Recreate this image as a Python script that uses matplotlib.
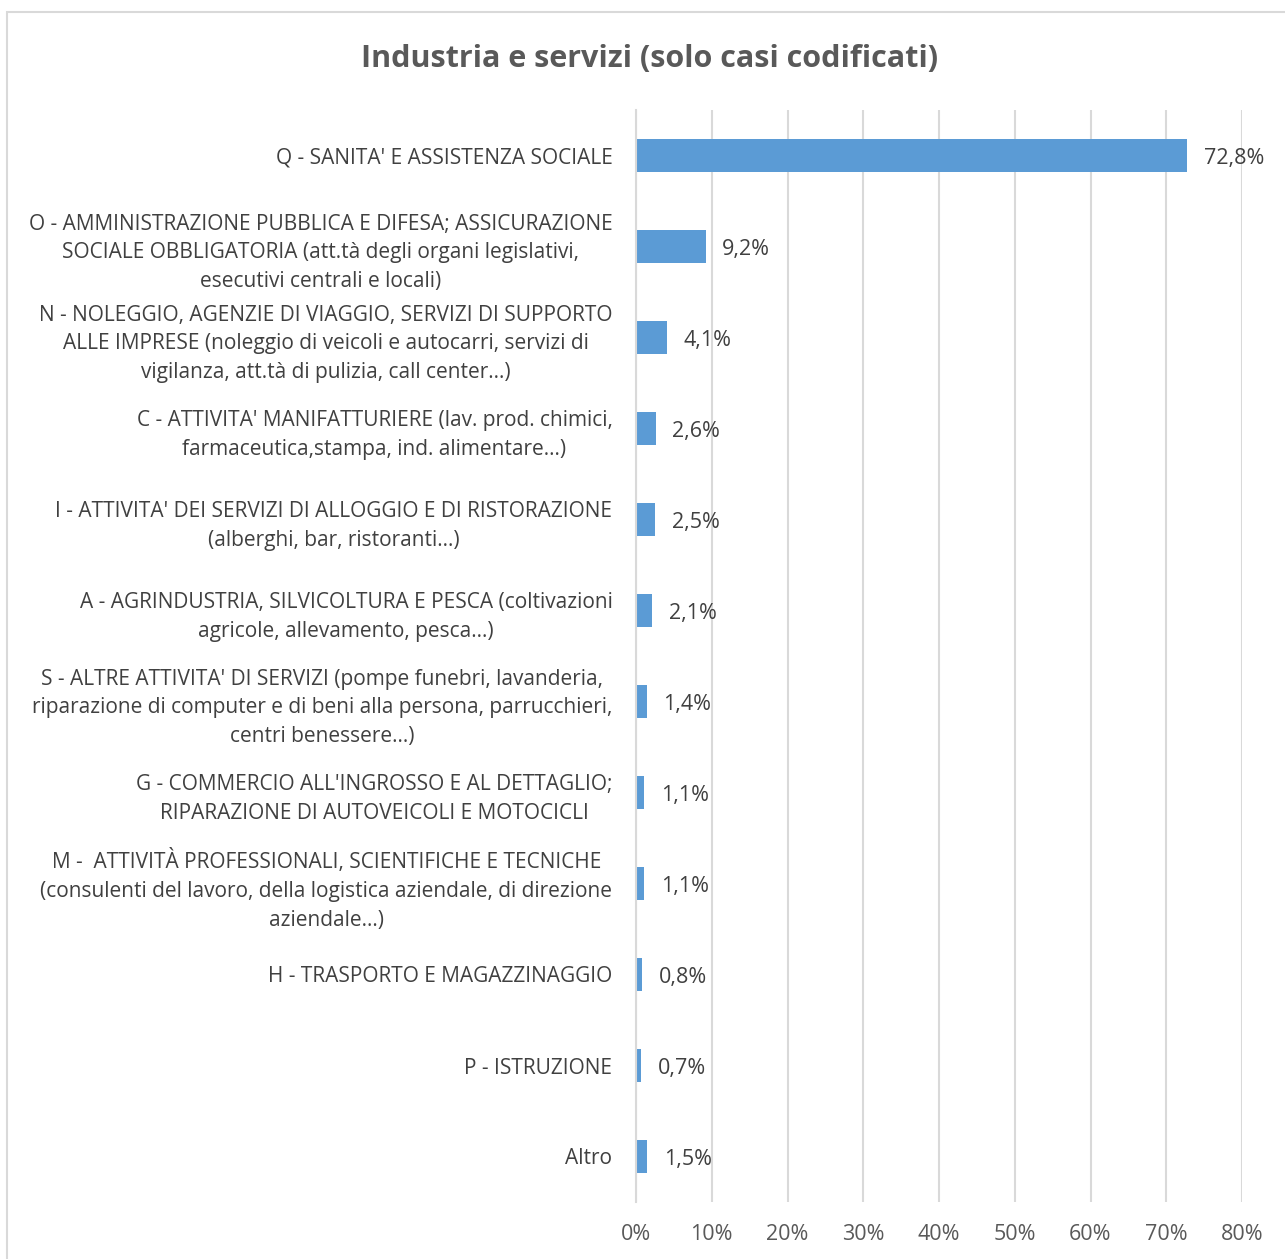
import matplotlib.pyplot as plt
from matplotlib.patches import Rectangle

# categories, top to bottom
categorie = [
    "Q - SANITA' E ASSISTENZA SOCIALE",
    "O - AMMINISTRAZIONE PUBBLICA E DIFESA; ASSICURAZIONE\nSOCIALE OBBLIGATORIA (att.tà degli organi legislativi,\nesecutivi centrali e locali)",
    "N - NOLEGGIO, AGENZIE DI VIAGGIO, SERVIZI DI SUPPORTO\nALLE IMPRESE (noleggio di veicoli e autocarri, servizi di\nvigilanza, att.tà di pulizia, call center…)",
    "C - ATTIVITA' MANIFATTURIERE (lav. prod. chimici,\nfarmaceutica,stampa, ind. alimentare…)",
    "I - ATTIVITA' DEI SERVIZI DI ALLOGGIO E DI RISTORAZIONE\n(alberghi, bar, ristoranti…)",
    "A - AGRINDUSTRIA, SILVICOLTURA E PESCA (coltivazioni\nagricole, allevamento, pesca…)",
    "S - ALTRE ATTIVITA' DI SERVIZI (pompe funebri, lavanderia,\nriparazione di computer e di beni alla persona, parrucchieri,\ncentri benessere…)",
    "G - COMMERCIO ALL'INGROSSO E AL DETTAGLIO;\nRIPARAZIONE DI AUTOVEICOLI E MOTOCICLI",
    "M -  ATTIVITÀ PROFESSIONALI, SCIENTIFICHE E TECNICHE\n(consulenti del lavoro, della logistica aziendale, di direzione\naziendale…)",
    "H - TRASPORTO E MAGAZZINAGGIO",
    "P - ISTRUZIONE",
    "Altro",
]
percentuali = [72.8, 9.2, 4.1, 2.6, 2.5, 2.1, 1.4, 1.1, 1.1, 0.8, 0.7, 1.5]
tick_x = [0, 10, 20, 30, 40, 50, 60, 70, 80]

plt.rcParams['font.family'] = ['Open Sans', 'DejaVu Sans']

fig = plt.figure(figsize=(12.85, 12.59), dpi=100)
fig.patches.append(Rectangle((7 / 1285, -0.1), 1.2, 1 - 12 / 1259 + 0.1,
                             transform=fig.transFigure, fill=False,
                             edgecolor='#d9d9d9', linewidth=1.5))

ax = fig.add_axes([636 / 1285, 1 - 1202 / 1259, (1242 - 636) / 1285, (1202 - 110) / 1259])
pos = list(range(len(categorie)))
ax.barh(pos, percentuali, height=0.36, color='#5b9bd5')
ax.set_ylim(len(categorie) - 0.5, -0.5)
ax.set_xlim(0, 80)

for p, v in zip(pos, percentuali):
    ax.text(v + 2.2, p + 0.03, ('%.1f%%' % v).replace('.', ','), va='center', ha='left',
            fontsize=15.5, color='#404040')

ax.set_xticks(tick_x)
ax.set_xticklabels([str(t) + '%' for t in tick_x], fontsize=15.5, color='#595959')
ax.set_yticks(pos)
ax.set_yticklabels(categorie, fontsize=15, color='#404040')
for lab in ax.get_yticklabels():
    lab.set_multialignment('center')
    lab.set_linespacing(1.48)

ax.tick_params(axis='both', length=0)
ax.tick_params(axis='y', pad=17)
ax.tick_params(axis='x', pad=16)
ax.grid(axis='x', color='#d9d9d9', linewidth=1.5)
ax.set_axisbelow(True)
for s in ['top', 'right', 'bottom']:
    ax.spines[s].set_visible(False)
ax.spines['left'].set_color('#d9d9d9')
ax.spines['left'].set_linewidth(1.5)

fig.text(650 / 1285, 1 - 59 / 1259, 'Industria e servizi (solo casi codificati)',
         ha='center', va='center', fontsize=22, fontweight='bold', color='#595959')

fig.savefig('out.png', dpi=100)
